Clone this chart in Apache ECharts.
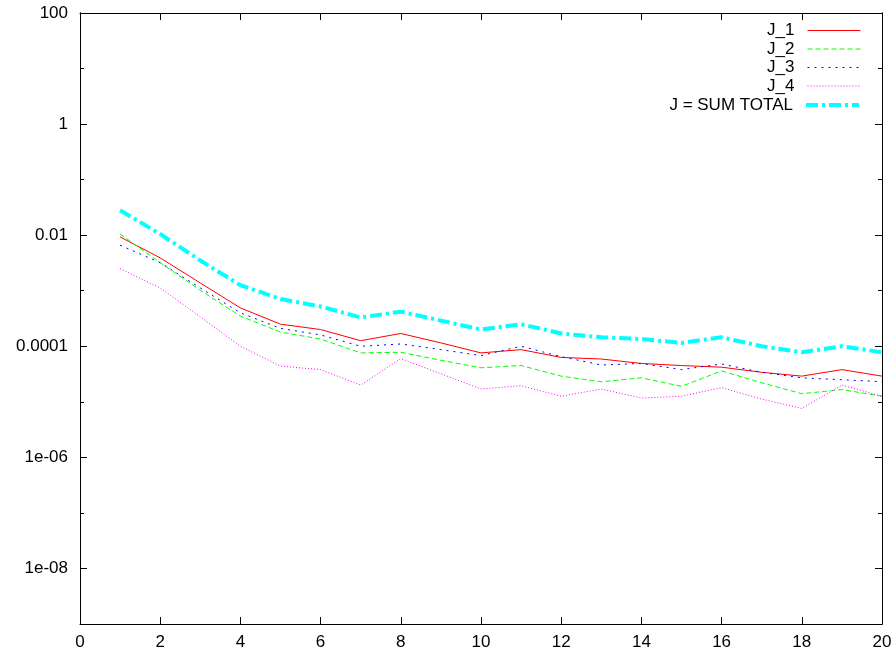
<!DOCTYPE html>
<html>
<head>
<meta charset="utf-8">
<script src="https://cdn.jsdelivr.net/npm/echarts@6/dist/echarts.min.js"></script>
<style>
html,body{margin:0;padding:0;background:#fff;}
#chart{width:896px;height:656px;}
</style>
</head>
<body>
<div id="chart"></div>
<script>
var xValues = [1,2,3,4,5,6,7,8,9,10,11,12,13,14,15,16,17,18,19,20];
var j1 = [9.3e-3,3.9e-3,1.38e-3,4.9e-4,2.5e-4,2.0e-4,1.26e-4,1.7e-4,1.15e-4,7.6e-5,8.7e-5,6.3e-5,5.9e-5,4.9e-5,4.5e-5,4.2e-5,3.4e-5,2.9e-5,3.8e-5,2.9e-5];
var j2 = [1.05e-2,3.2e-3,1.02e-3,3.5e-4,1.8e-4,1.35e-4,7.6e-5,7.8e-5,5.6e-5,4.1e-5,4.5e-5,2.9e-5,2.3e-5,2.7e-5,1.9e-5,3.6e-5,2.2e-5,1.4e-5,1.66e-5,1.26e-5];
var j3 = [6.6e-3,3.2e-3,1.12e-3,4.0e-4,2.1e-4,1.6e-4,1.0e-4,1.1e-4,8.7e-5,6.8e-5,1.0e-4,6.5e-5,4.6e-5,4.9e-5,3.8e-5,4.8e-5,3.4e-5,2.7e-5,2.5e-5,2.3e-5];
var j4 = [2.5e-3,1.12e-3,3.4e-4,1.0e-4,4.4e-5,3.8e-5,2.0e-5,6.0e-5,3.2e-5,1.7e-5,1.95e-5,1.26e-5,1.7e-5,1.17e-5,1.26e-5,1.8e-5,1.12e-5,7.6e-6,2.0e-5,1.26e-5];
var jTotal = [2.8e-2,1.05e-2,3.5e-3,1.26e-3,7.1e-4,5.2e-4,3.3e-4,4.2e-4,2.9e-4,2.0e-4,2.5e-4,1.7e-4,1.45e-4,1.35e-4,1.15e-4,1.45e-4,1.0e-4,7.8e-5,1.0e-4,7.8e-5];
var seriesNames = ['J_1','J_2','J_3','J_4','J = SUM TOTAL'];
var yMajorValues = [1e-8,1e-6,1e-4,1e-2,1,100];
var yMajorLabels = ['1e-08','1e-06','0.0001','0.01','1','100'];
var yMinorValues = [1e-9,1e-7,1e-5,1e-3,0.1,10];

var FONT = 'Liberation Sans, Arial, sans-serif';
function pairs(arr){ return xValues.map(function(x,i){ return [x, arr[i]]; }); }
function yLabel(v){
  var e = Math.round(Math.log10(v));
  for (var i=0;i<yMajorValues.length;i++){ if (Math.round(Math.log10(yMajorValues[i]))===e) return yMajorLabels[i]; }
  return '';
}
function yAxisDef(pos, values, len, showLabel){
  return {
    type:'log', logBase:10, min:1e-9, max:100, position:pos,
    axisLine:{show:true, onZero:false, lineStyle:{color:'#000', width:1}},
    axisTick:{show:true, inside:true, length:len, customValues:values, lineStyle:{color:'#000', width:1}},
    axisLabel:{show:showLabel, customValues:values, formatter:yLabel, fontSize:17, color:'#000', margin:12, fontFamily:FONT},
    splitLine:{show:false}, minorTick:{show:false}
  };
}
function xAxisDef(pos, showLabel){
  return {
    type:'value', min:0, max:20, interval:2, position:pos,
    axisLine:{show:true, onZero:false, lineStyle:{color:'#000', width:1}},
    axisTick:{show:true, inside:true, length:7, lineStyle:{color:'#000', width:1}},
    axisLabel:{show:showLabel, fontSize:17, color:'#000', margin:10, fontFamily:FONT},
    splitLine:{show:false}
  };
}
var colors = ['#ff0000','#00ff00','#0000ff','#ff00ff','#00ffff'];
var dashes = ['solid',[5,3],[2,5],[1,2],[12,4,3,4]];
var widths = [1,1,1,1,4];
var datas = [j1,j2,j3,j4,jTotal];
var series = seriesNames.map(function(n,i){
  return {
    name:n, type:'line', xAxisIndex:0, yAxisIndex:0, symbol:'none', showSymbol:false,
    data:pairs(datas[i]), color:colors[i],
    lineStyle:{color:colors[i], width:widths[i], type:dashes[i]},
    animation:false
  };
});
var rowTops = [22,40.5,59,77.5,96.5];
var legends = seriesNames.map(function(n,i){
  return {
    data:[n], right:35, top:rowTops[i], orient:'vertical', align:'right',
    itemWidth:53, itemHeight:14, padding:0, itemGap:0,
    itemStyle:{opacity:0, color:'transparent', borderWidth:0},
    lineStyle:{color:colors[i], width:widths[i], type:dashes[i]},
    textStyle:{fontSize:17, color:'#000', fontFamily:FONT, padding:[0,8,0,0]},
    selectedMode:false
  };
});
var chart = echarts.init(document.getElementById('chart'), null, {renderer:'canvas'});
chart.setOption({
  backgroundColor:'#fff',
  animation:false,
  grid:{left:80, right:14, top:13, bottom:32, containLabel:false},
  legend:legends,
  xAxis:[xAxisDef('bottom', true), xAxisDef('top', false)],
  yAxis:[
    yAxisDef('left', yMajorValues, 7, true),
    yAxisDef('left', yMinorValues, 4, false),
    yAxisDef('right', yMajorValues, 7, false),
    yAxisDef('right', yMinorValues, 4, false)
  ],
  series:series
});
</script>
</body>
</html>
